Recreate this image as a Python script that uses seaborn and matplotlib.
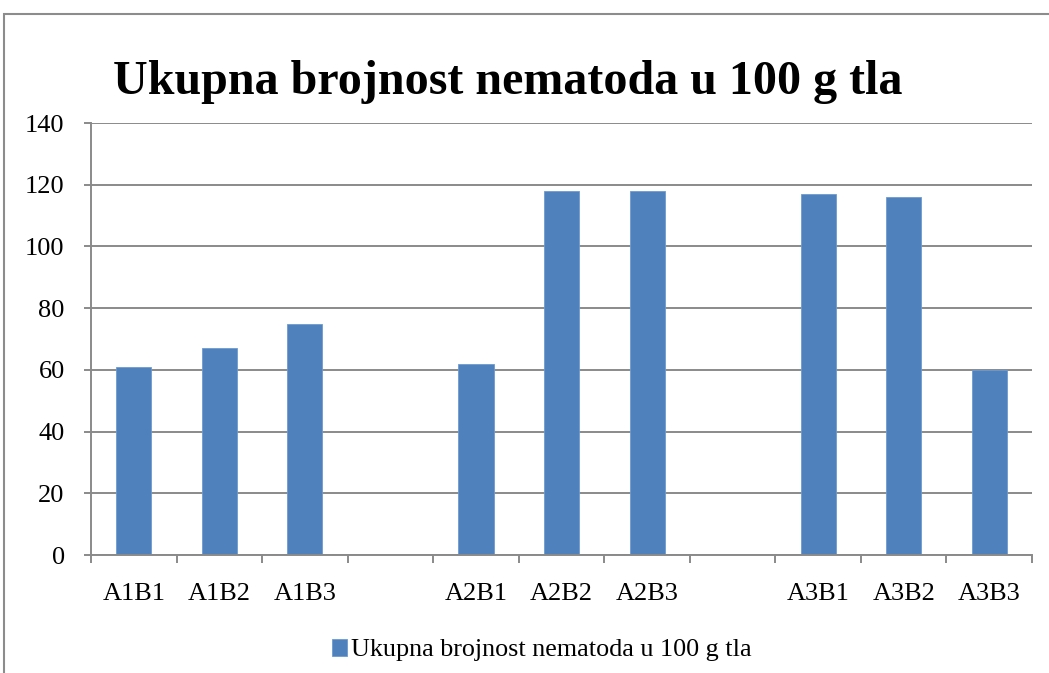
import numpy as np
import pandas as pd
import matplotlib
matplotlib.use("Agg")
import matplotlib.pyplot as plt
import seaborn as sns
from matplotlib.patches import Rectangle

# data (two empty slots between the groups)
categories = ["A1B1", "A1B2", "A1B3", " ", "A2B1", "A2B2", "A2B3", "  ", "A3B1", "A3B2", "A3B3"]
values = [61, 67, 75, np.nan, 62, 118, 118, np.nan, 117, 116, 60]
series_name = "Ukupna brojnost nematoda u 100 g tla"
title = "Ukupna brojnost nematoda u 100 g tla"
y_ticks = [0, 20, 40, 60, 80, 100, 120, 140]

df = pd.DataFrame({"cat": categories, "val": values, "series": series_name})

sns.set_style("white")
plt.rcParams["font.family"] = ["Liberation Serif", "DejaVu Serif"]
plt.rcParams["text.color"] = "black"
plt.rcParams["xtick.color"] = "black"
plt.rcParams["ytick.color"] = "black"

fig = plt.figure(figsize=(10.49, 6.73), dpi=100)
ax = fig.add_axes([0.0868, 0.1753, 0.897, 0.6419])

# outer chart frame
fig.patches.append(Rectangle((0.004, -0.1), 1.2, 1.1 - 14 / 673, transform=fig.transFigure,
                             fill=False, edgecolor="#8c8c8c", linewidth=1.5))

sns.barplot(data=df, x="cat", y="val", hue="series", order=categories,
            palette=["#4F81BD"], saturation=1, width=0.41, errorbar=None, ax=ax,
            edgecolor="#6f9bd0", linewidth=0.6)

ax.set_ylim(0, 140)
ax.set_xlim(-0.5, len(categories) - 0.5)
ax.set_yticks(y_ticks)
ax.yaxis.grid(True, color="#8a8a8a", linewidth=1.4)
ax.set_axisbelow(True)
ax.set_xlabel("")
ax.set_ylabel("")

for s in ["top", "right"]:
    ax.spines[s].set_visible(False)
for s in ["left", "bottom"]:
    ax.spines[s].set_color("#8a8a8a")
    ax.spines[s].set_linewidth(1.4)

ax.tick_params(axis="y", which="major", length=5, width=1.4, color="#8a8a8a",
               labelcolor="black", labelsize=19, pad=14, left=True)
ax.tick_params(axis="x", which="major", length=0, labelcolor="black", labelsize=19, pad=20)
ax.set_xticks(np.arange(-0.5, len(categories), 1.0), minor=True)
ax.tick_params(axis="x", which="minor", length=6, width=1.4, color="#8a8a8a", bottom=True)

fig.text(0.484, 0.878, title, ha="center", va="center", fontsize=34.6, fontweight="bold",
         color="black")

leg = ax.legend(loc="upper center", bbox_to_anchor=(0.479, -0.14), frameon=False,
                fontsize=18.8, handlelength=0.6, handleheight=0.6, handletextpad=0.15,
                labelcolor="black")

fig.savefig("out.png", dpi=100)
